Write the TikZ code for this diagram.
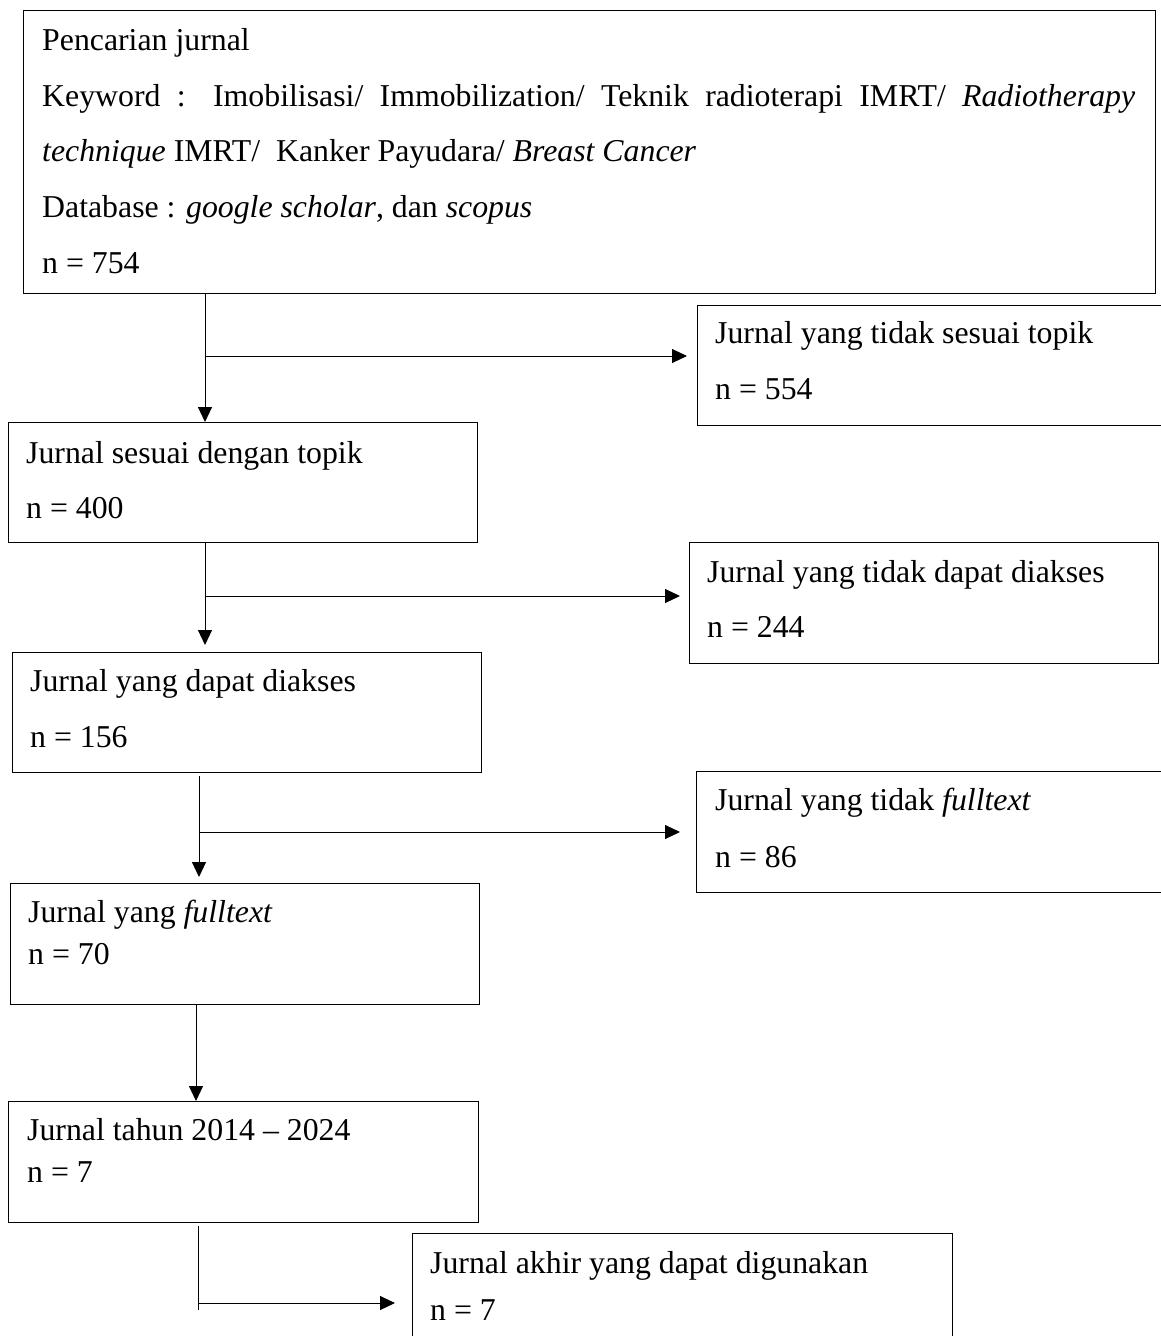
\documentclass[tikz,border=0pt]{standalone}
\usepackage{fontspec}
\setmainfont{Liberation Serif}
\usetikzlibrary{arrows.meta,positioning}

\tikzset{
  box/.style={draw, line width=1.3pt, anchor=north west, inner sep=0pt},
  txt/.style={anchor=base west, inner sep=0pt, font=\fontsize{31.8}{38}\selectfont},
  arr/.style={line width=1pt, -{Triangle[length=15pt,width=14pt]}},
  ln/.style={line width=1pt}
}

\begin{document}
\begin{tikzpicture}[x=1pt,y=-1pt]
\useasboundingbox (0,0) rectangle (1161,1336);
\clip (0,0) rectangle (1161,1336);

\node[box, minimum width=1132pt, minimum height=283pt] (cari) at (23,10) {};
\node[box, minimum width=480pt, minimum height=120pt] (tsesuai) at (697,305) {};
\node[box, minimum width=469pt, minimum height=120pt] (sesuai) at (8,422) {};
\node[box, minimum width=469pt, minimum height=121pt] (tdiakses) at (689,542) {};
\node[box, minimum width=469pt, minimum height=120pt] (diakses) at (12,652) {};
\node[box, minimum width=480pt, minimum height=121pt] (tfull) at (696,771) {};
\node[box, minimum width=469pt, minimum height=121pt] (full) at (10,883) {};
\node[box, minimum width=470pt, minimum height=121pt] (tahun) at (8,1101) {};
\node[box, minimum width=540pt, minimum height=130pt] (akhir) at (412,1233) {};

\node[txt] (cari1) at (42,50) {Pencarian jurnal};
\node[txt] (cari2) at (42,106) {\makebox[1093pt][s]{Keyword : Imobilisasi/ Immobilization/ Teknik radioterapi IMRT/ \textit{Radiotherapy}}};
\node[txt] (cari3) at (42,161) {\textit{technique} IMRT/ \ Kanker Payudara/ \textit{Breast Cancer}};
\node[txt] (cari4) at (42,217) {Database : \textit{google scholar}, dan \textit{scopus}};
\node[txt] (cari5) at (42,273) {n = 754};

\node[txt] (tsesuai1) at (715,343) {Jurnal yang tidak sesuai topik};
\node[txt] (tsesuai2) at (715,399) {n = 554};
\node[txt] (sesuai1) at (26,463) {Jurnal sesuai dengan topik};
\node[txt] (sesuai2) at (26,518) {n = 400};
\node[txt] (tdiakses1) at (707,582) {Jurnal yang tidak dapat diakses};
\node[txt] (tdiakses2) at (707,637) {n = 244};
\node[txt] (diakses1) at (30,691) {Jurnal yang dapat diakses};
\node[txt] (diakses2) at (30,747) {n = 156};
\node[txt] (tfull1) at (715,810) {Jurnal yang tidak \textit{fulltext}};
\node[txt] (tfull2) at (715,867) {n = 86};
\node[txt] (full1) at (28,922) {Jurnal yang \textit{fulltext}};
\node[txt] (full2) at (28,964) {n = 70};
\node[txt] (tahun1) at (27,1140) {Jurnal tahun 2014 -- 2024};
\node[txt] (tahun2) at (27,1182) {n = 7};
\node[txt] (akhir1) at (430,1273) {Jurnal akhir yang dapat digunakan};
\node[txt] (akhir2) at (430,1320) {n = 7};

\coordinate (k1) at (205,356);
\coordinate (k2) at (205,596);
\coordinate (k3) at (199,832);
\coordinate (k4) at (196,1050);
\coordinate (k5) at (198,1303);
\coordinate (ujung) at (198,1310);

\draw[arr] (cari.south -| k1) -- (sesuai.north -| k1);
\draw[arr, shorten >=10pt] (k1) -- (k1 -| tsesuai.west);

\draw[arr, shorten >=7pt] (sesuai.south -| k2) -- (diakses.north -| k2);
\draw[arr, shorten >=9pt] (k2) -- (k2 -| tdiakses.west);

\draw[arr, shorten <=3pt, shorten >=6pt] (diakses.south -| k3) -- (full.north -| k3);
\draw[arr, shorten >=16pt] (k3) -- (k3 -| tfull.west);

\draw[arr] (full.south -| k4) -- (tahun.north -| k4);

\draw[ln, shorten <=3pt] (tahun.south -| ujung) -- (ujung);
\draw[arr, shorten >=17pt] (k5) -- (k5 -| akhir.west);
\end{tikzpicture}
\end{document}
